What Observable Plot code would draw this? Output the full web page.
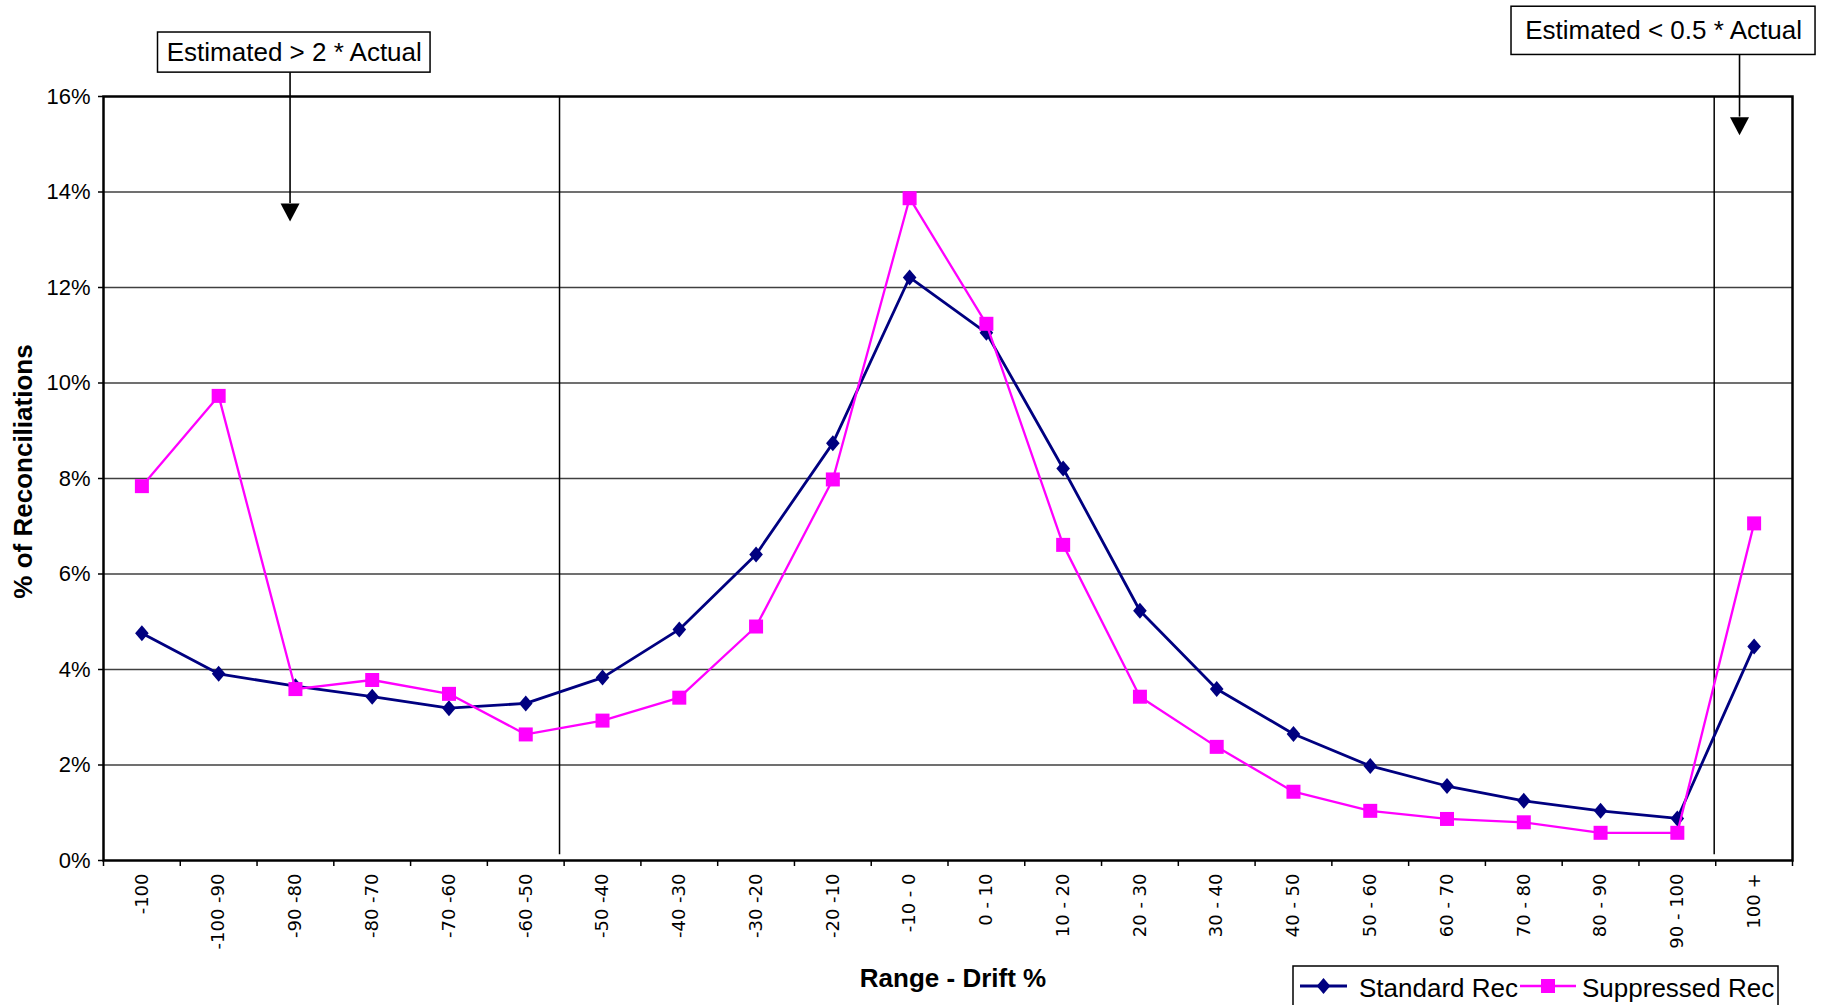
<!DOCTYPE html>
<html>
<head>
<meta charset="utf-8">
<script src="https://cdn.jsdelivr.net/npm/d3@7"></script>
<script src="https://cdn.jsdelivr.net/npm/@observablehq/plot@0.6"></script>
<style>
html, body { margin: 0; padding: 0; background: #fff; overflow: hidden; }
#chart svg { display: block; }
</style>
</head>
<body>
<div id="chart"></div>
<script>
// ---- data ----
const categories = ["-100", "-100 -90", "-90 -80", "-80 -70", "-70 -60", "-60 -50", "-50 -40", "-40 -30", "-30 -20", "-20 -10", "-10 - 0", "0 - 10", "10 - 20", "20 - 30", "30 - 40", "40 - 50", "50 - 60", "60 - 70", "70 - 80", "80 - 90", "90 - 100", "100 +"];
const standardRec = [4.76, 3.91, 3.65, 3.43, 3.19, 3.29, 3.83, 4.84, 6.41, 8.74, 12.21, 11.05, 8.21, 5.23, 3.59, 2.65, 1.98, 1.56, 1.25, 1.04, 0.88, 4.48];
const suppressedRec = [7.84, 9.73, 3.59, 3.78, 3.49, 2.64, 2.93, 3.41, 4.90, 7.98, 13.87, 11.24, 6.61, 3.43, 2.38, 1.44, 1.04, 0.87, 0.80, 0.58, 0.58, 7.06];
const seriesNames = ["Standard Rec", "Suppressed Rec"];
const seriesColors = ["#000080", "#FF00FF"];
const yTicks = [0, 2, 4, 6, 8, 10, 12, 14, 16];
const yTitle = "% of Reconciliations";
const xTitle = "Range - Drift %";
// annotations (category-index / percent units)
const dividers = [5.44, 20.48];
const notes = [
  {text: "Estimated > 2 * Actual", x1: 0.21, x2: 3.76, y1: 16.50, y2: 17.34, ax: 1.93, ay1: 16.50, ay2: 13.76, tip: 13.38},
  {text: "Estimated < 0.5 * Actual", x1: 17.84, x2: 21.80, y1: 16.87, y2: 17.88, ax: 20.81, ay1: 16.87, ay2: 15.57, tip: 15.19}
];

// ---- symbols ----
const diamondSym = {draw(ctx) { ctx.moveTo(0, -8); ctx.lineTo(6.8, 0); ctx.lineTo(0, 8); ctx.lineTo(-6.8, 0); ctx.closePath(); }};
const squareSym = {draw(ctx) { ctx.moveTo(-7, -7); ctx.lineTo(7, -7); ctx.lineTo(7, 7); ctx.lineTo(-7, 7); ctx.closePath(); }};
const headSym = {draw(ctx) { ctx.moveTo(0, 0); ctx.lineTo(-9.5, -18); ctx.lineTo(9.5, -18); ctx.closePath(); }};

const rows = [];
[standardRec, suppressedRec].forEach((vals, s) => vals.forEach((v, i) => rows.push({i, v, s: seriesNames[s]})));
const idx = d3.range(categories.length);
const boundaries = d3.range(categories.length + 1).map(i => i - 0.5);

const marks = [
  Plot.ruleY(yTicks.filter(t => t > 0 && t < 16), {stroke: "#404040", strokeWidth: 1.3}),
  Plot.ruleX(dividers, {y1: 0.12, y2: 16, stroke: "#000", strokeWidth: 1.5}),
  Plot.frame({stroke: "#000", strokeWidth: 2.5}),
  Plot.axisY({ticks: yTicks, tickFormat: d => d + "%", tickSize: 5, tickPadding: 8, fontSize: 22, strokeWidth: 1.5, label: null}),
  Plot.axisX({ticks: boundaries, tickFormat: () => "", tickSize: 6, strokeWidth: 1.5, label: null}),
  Plot.axisX({ticks: idx, tickFormat: i => categories[i], tickSize: 0, tickPadding: 13, tickRotate: -90, fontSize: 18, fontFamily: "DejaVu Sans", label: null}),
  Plot.text([yTitle], {frameAnchor: "left", textAnchor: "middle", dx: -80, dy: -7, rotate: -90, fontSize: 26, fontWeight: "bold"}),
  Plot.text([xTitle], {frameAnchor: "bottom", textAnchor: "middle", dx: 5, dy: 126, fontSize: 26, fontWeight: "bold"})
];
seriesNames.forEach((name, s) => {
  const data = rows.filter(r => r.s === name);
  marks.push(Plot.line(data, {x: "i", y: "v", stroke: seriesColors[s], strokeWidth: s === 0 ? 2.8 : 2.3}));
  marks.push(Plot.dot(data, {x: "i", y: "v", fill: seriesColors[s], stroke: "none", symbol: s === 0 ? diamondSym : squareSym}));
});
marks.push(
  Plot.ruleX(notes, {x: "ax", y1: "ay1", y2: "ay2", stroke: "#000", strokeWidth: 1.6}),
  Plot.dot(notes, {x: "ax", y: "tip", fill: "#000", stroke: "none", symbol: headSym}),
  Plot.rect(notes, {x1: "x1", x2: "x2", y1: "y1", y2: "y2", fill: "#fff", stroke: "#000", strokeWidth: 1.5}),
  Plot.text(notes, {x: d => (d.x1 + d.x2) / 2, y: d => (d.y1 + d.y2) / 2, text: "text", fontSize: 26, fill: "#000"})
);

const plot = Plot.plot({
  width: 1823,
  height: 1005,
  marginLeft: 103,
  marginRight: 31,
  marginTop: 96,
  marginBottom: 145,
  x: {type: "linear", domain: [-0.5, categories.length - 0.5]},
  y: {type: "linear", domain: [0, 16]},
  style: {fontFamily: "'Liberation Sans', Arial, sans-serif", fontSize: "21px", background: "#fff", color: "#000", overflow: "visible"},
  marks
});
document.getElementById("chart").appendChild(plot);

// ---- legend ----
const lg = d3.select(plot).append("g")
  .attr("font-family", "'Liberation Sans', Arial, sans-serif").attr("font-size", 26).attr("text-anchor", "start");
lg.append("rect").attr("x", 1293).attr("y", 966).attr("width", 485).attr("height", 46).attr("fill", "#fff").attr("stroke", "#000").attr("stroke-width", 1.5);
const items = [{x: 1300, lw: 47, tx: 1359}, {x: 1520, lw: 56, tx: 1582}];
items.forEach((it, s) => {
  lg.append("line").attr("x1", it.x).attr("x2", it.x + it.lw).attr("y1", 986).attr("y2", 986).attr("stroke", seriesColors[s]).attr("stroke-width", s === 0 ? 2.8 : 2.3);
  lg.append("path").attr("transform", `translate(${it.x + it.lw / 2},986)`).attr("fill", seriesColors[s])
    .attr("d", d3.symbol().type(s === 0 ? diamondSym : squareSym)());
  lg.append("text").attr("x", it.tx).attr("y", 997).attr("fill", "#000").attr("text-anchor", "start").text(seriesNames[s]);
});
</script>
</body>
</html>
